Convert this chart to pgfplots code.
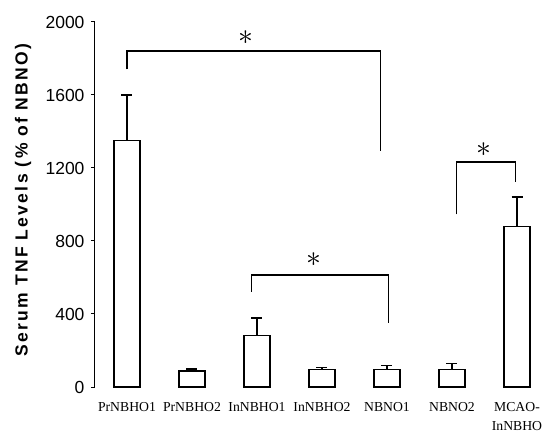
\documentclass[border=0pt]{standalone}
\usepackage{fontspec}
\setmainfont{Liberation Serif}
\newfontfamily\arial{Liberation Sans}
\usepackage{pgfplots}
\pgfplotsset{compat=1.18}
\pgfplotstableread{
x y e
0 1350 250
1 88 10
2 281 97
3 97 11
4 97 22
5 97 33
6 878 163
}\tnfdata
\begin{document}
\begin{tikzpicture}
\begin{axis}[
 scale only axis, width=448bp, height=365bp,
 xmin=-0.492, xmax=6.4, ymin=0, ymax=2000,
 axis y line=left, axis x line*=bottom,
 x axis line style={draw=none},
 y axis line style={-, line width=1bp},
 ytick={0,400,...,2000},
 tick align=outside, major tick length=4bp,
 ytick style={line width=1bp, black},
 xtick={0,...,6}, xtick style={draw=none},
 xticklabels={PrNBHO1,PrNBHO2,InNBHO1,InNBHO2,NBNO1,NBNO2,{MCAO-\\InNBHO}},
 xticklabel style={font=\fontsize{13.7bp}{18.5bp}\selectfont, align=center, yshift=-8bp},
 y tick label style={font=\arial\fontsize{17.5bp}{17.5bp}\selectfont, /pgf/number format/1000 sep={}, xshift=-3bp},
 /pgf/number format/assume math mode=true,
 ylabel={Serum TNF Levels (\% of NBNO)},
 ylabel style={font=\arial\bfseries\fontsize{17.5bp}{17.5bp}\selectfont\addfontfeature{LetterSpace=13}, at={(axis description cs:-0.1607,0.512)}, anchor=center},
 clip=false,
]
\addplot[ybar, bar width=26bp, fill=white, draw=black, line width=1.3bp,
  error bars/.cd, y dir=plus, y explicit,
  error bar style={line width=1.3bp},
  error mark options={rotate=90, mark size=5.5bp, line width=1.3bp}]
  table[x=x, y=y, y error=e] {\tnfdata};
\addplot[black, line width=1.3bp, mark=none, forget plot] coordinates {(0,1741) (0,1841) (3.9,1841) (3.9,1295)};
\addplot[black, line width=1.3bp, mark=none, forget plot] coordinates {(1.92,522) (1.92,614) (4.02,614) (4.02,349)};
\addplot[black, line width=1.3bp, mark=none, forget plot] coordinates {(5.07,946) (5.07,1233) (5.98,1233) (5.98,1122)};
\node[scale=1.2] at (axis cs:1.83,1912) {\fontsize{24bp}{24bp}\selectfont$\ast$};
\node[scale=1.2] at (axis cs:2.88,696) {\fontsize{24bp}{24bp}\selectfont$\ast$};
\node[scale=1.2] at (axis cs:5.49,1299) {\fontsize{24bp}{24bp}\selectfont$\ast$};
\end{axis}
\pgfresetboundingbox
\path ([xshift=-95bp,yshift=-48bp]current axis.south west) rectangle ([xshift=449bp,yshift=387bp]current axis.south west);
\end{tikzpicture}
\end{document}
